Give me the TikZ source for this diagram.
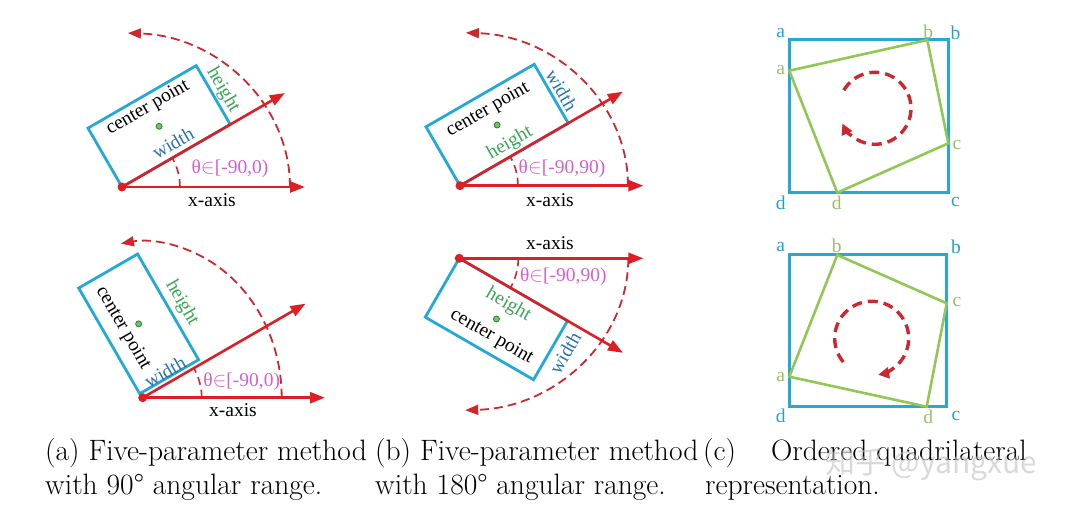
\documentclass[tikz,border=0pt]{standalone}
\usepackage{fontspec}
\newfontfamily\tnr{Liberation Serif}
\newfontfamily\cjkwm{Noto Sans CJK SC}
\usetikzlibrary{arrows.meta,calc}
\definecolor{axred}{RGB}{222,30,36}
\definecolor{arcred}{RGB}{205,40,45}
\definecolor{boxblue}{RGB}{35,168,215}
\definecolor{wblue}{RGB}{40,115,175}
\definecolor{hgreen}{RGB}{55,165,85}
\definecolor{dotgreen}{RGB}{110,200,90}
\definecolor{thmag}{RGB}{212,95,205}
\definecolor{qgreen}{RGB}{145,200,85}
\definecolor{lblblue}{RGB}{40,160,205}
\definecolor{lblgreen}{RGB}{155,190,110}
\tikzset{
  axisarrow/.style={axred, line width=2.6pt, -{Triangle[length=15pt,width=11pt]}},
  bigarc/.style={arcred, line width=1.8pt, dash pattern=on 9pt off 5pt, -{Triangle[length=13pt,width=10pt]}},
  smallarc/.style={arcred, line width=1.6pt, dash pattern=on 8pt off 5pt},
  obox/.style={boxblue, line width=2.8pt, line join=miter},
  sqbox/.style={boxblue, line width=3pt},
  quad/.style={qgreen, line width=2.6pt, line join=miter},
  circarc/.style={arcred, line width=3.4pt, dash pattern=on 10pt off 6pt, -{Triangle[length=11pt,width=11pt]}},
  lbl/.style={font=\tnr\fontsize{19.5}{22}\selectfont, inner sep=0pt},
  corner/.style={font=\tnr\fontsize{19.5}{22}\selectfont, inner sep=0pt},
  captext/.style={font=\fontsize{29.5}{34}\selectfont, inner sep=0pt, anchor=base west},
  cdot/.style={draw=hgreen!75!black, fill=dotgreen, line width=0.8pt},
  odot/.style={fill=axred}
}
\begin{document}
\begin{tikzpicture}[x=1pt,y=-1pt]
\useasboundingbox (0,0) rectangle (1080,510);

% ---------------- Panel (a) top ----------------
\begin{scope}[shift={(122,187)}, yscale=-1]
  \coordinate (A1o) at (0,0);
  \coordinate (A1x) at (183,0);
  \coordinate (A1r) at (30:188);
  \coordinate (A1p1) at (30:125);
  \coordinate (A1p2) at ($(30:125)+(120:68)$);
  \coordinate (A1p3) at (120:68);
  \coordinate (A1m) at ($(A1o)!0.5!(A1p2)$);
  \draw[obox] (A1o) -- (A1p1) -- (A1p2) -- (A1p3) -- cycle;
  \draw[smallarc] (58,0) arc[start angle=0,end angle=30,radius=58];
  \draw[bigarc] (168,0) arc[start angle=0,end angle=88,x radius=168,y radius=154];
  \draw[axisarrow] (A1o) -- (A1x);
  \draw[axisarrow] (A1o) -- (A1r);
  \fill[odot] (A1o) circle (4.5);
  \filldraw[cdot] (A1m) circle (3);
  \node[lbl, rotate=30] (A1c) at (26,79) {center point};
  \node[lbl, text=wblue, rotate=30] (A1w) at (51,44) {width};
  \node[lbl, text=hgreen, rotate=-60] (A1h) at (101,97) {height};
  \node[lbl, text=thmag] (A1t) at (108,18) {θ$\in$[-90,0)};
  \node[lbl] (A1xl) at (90,-13) {x-axis};
\end{scope}

% ---------------- Panel (b) top ----------------
\begin{scope}[shift={(460,185.7)}, yscale=-1]
  \coordinate (B1o) at (0,0);
  \coordinate (B1x) at (183.3,0);
  \coordinate (B1r) at (30:188);
  \coordinate (B1p1) at (30:125);
  \coordinate (B1p2) at ($(30:125)+(120:68)$);
  \coordinate (B1p3) at (120:68);
  \coordinate (B1m) at ($(B1o)!0.5!(B1p2)$);
  \draw[obox] (B1o) -- (B1p1) -- (B1p2) -- (B1p3) -- cycle;
  \draw[smallarc] (58,0) arc[start angle=0,end angle=30,radius=58];
  \draw[bigarc] (168,0) arc[start angle=0,end angle=88,x radius=168,y radius=153];
  \draw[axisarrow] (B1o) -- (B1x);
  \draw[axisarrow] (B1o) -- (B1r);
  \fill[odot] (B1o) circle (4.5);
  \filldraw[cdot] (B1m) circle (3);
  \node[lbl, rotate=30] (B1c) at (28,75.7) {center point};
  \node[lbl, text=hgreen, rotate=30] (B1h) at (50,42.4) {height};
  \node[lbl, text=wblue, rotate=-60] (B1w) at (101.7,95.7) {width};
  \node[lbl, text=thmag] (B1t) at (102,17.4) {θ$\in$[-90,90)};
  \node[lbl] (B1xl) at (90,-14.3) {x-axis};
\end{scope}

% ---------------- Panel (a) bottom ----------------
\begin{scope}[shift={(142.7,397.7)}, yscale=-1]
  \coordinate (A2o) at (0,0);
  \coordinate (A2x) at (182.3,0);
  \coordinate (A2r) at (30:188);
  \coordinate (A2p0) at (-3,4);
  \coordinate (A2p1) at ($(A2p0)+(30:68)$);
  \coordinate (A2p2) at ($(A2p1)+(120:122)$);
  \coordinate (A2p3) at ($(A2p0)+(120:122)$);
  \coordinate (A2m) at ($(A2p0)!0.5!(A2p2)$);
  \draw[obox] (A2p0) -- (A2p1) -- (A2p2) -- (A2p3) -- cycle;
  \draw[smallarc] (59,0) arc[start angle=0,end angle=30,radius=59];
  \draw[bigarc] (139,0) arc[start angle=0,end angle=99,x radius=139,y radius=156];
  \draw[axisarrow] (A2o) -- (A2x);
  \draw[axisarrow] (A2o) -- (A2r);
  \fill[odot] (A2o) circle (4.5);
  \filldraw[cdot] (A2m) circle (3);
  \node[lbl, rotate=-60] (A2c) at (-19.7,69.7) {center point};
  \node[lbl, text=hgreen, rotate=-60] (A2h) at (39.3,94.7) {height};
  \node[lbl, text=wblue, rotate=30] (A2w) at (22.3,25.7) {width};
  \node[lbl, text=thmag] (A2t) at (99,16) {θ$\in$[-90,0)};
  \node[lbl] (A2xl) at (90.3,-12.3) {x-axis};
\end{scope}

% ---------------- Panel (b) bottom ----------------
\begin{scope}[shift={(459.3,258.3)}, yscale=-1]
  \coordinate (B2o) at (0,0);
  \coordinate (B2x) at (184,0);
  \coordinate (B2r) at (-30:189);
  \coordinate (B2p1) at (-30:125);
  \coordinate (B2p2) at ($(-30:125)+(-120:68)$);
  \coordinate (B2p3) at (-120:68);
  \coordinate (B2m) at ($(B2o)!0.5!(B2p2)$);
  \draw[obox] (B2o) -- (B2p1) -- (B2p2) -- (B2p3) -- cycle;
  \draw[smallarc] (59,0) arc[start angle=0,end angle=-30,radius=59];
  \draw[bigarc] (169,0) arc[start angle=0,end angle=-88,x radius=169,y radius=152];
  \draw[axisarrow] (B2o) -- (B2x);
  \draw[axisarrow] (B2o) -- (B2r);
  \fill[odot] (B2o) circle (4.5);
  \filldraw[cdot] (B2m) circle (3);
  \node[lbl, rotate=-30] (B2c) at (32.4,-78.4) {center point};
  \node[lbl, text=hgreen, rotate=-30] (B2h) at (49,-46.7) {height};
  \node[lbl, text=wblue, rotate=60] (B2w) at (105.7,-95) {width};
  \node[lbl, text=thmag] (B2t) at (104,-18.4) {θ$\in$[-90,90)};
  \node[lbl] (B2xl) at (90.7,15) {x-axis};
\end{scope}

% ---------------- Panel (c) top ----------------
\coordinate (C1A) at (789.3,40);
\coordinate (C1B) at (948.3,40);
\coordinate (C1C) at (948.3,192.7);
\coordinate (C1D) at (789.3,192.7);
\coordinate (C1a) at (789.3,70.7);
\coordinate (C1b) at (927.3,40);
\coordinate (C1c) at (948.3,143.3);
\coordinate (C1d) at (837.3,192.7);
\draw[sqbox] (C1A) -- (C1B) -- (C1C) -- (C1D) -- cycle;
\draw[quad] (C1a) -- (C1b) -- (C1c) -- (C1d) -- cycle;
\begin{scope}[shift={(875,108.3)}, yscale=-1]
  \draw[circarc] (150:36) arc[start angle=150,end angle=-155,radius=36];
\end{scope}
\node[corner, text=lblblue] (C1la) at (780.7,32.7) {a};
\node[corner, text=lblblue] (C1lb) at (955.5,32.7) {b};
\node[corner, text=lblblue] (C1lc) at (955.5,202.5) {c};
\node[corner, text=lblblue] (C1ld) at (780.7,202.5) {d};
\node[corner, text=lblgreen] (C1ga) at (780.7,70) {a};
\node[corner, text=lblgreen] (C1gb) at (928.3,31.7) {b};
\node[corner, text=lblgreen] (C1gc) at (957,145) {c};
\node[corner, text=lblgreen] (C1gd) at (836.7,202.5) {d};

% ---------------- Panel (c) bottom ----------------
\coordinate (C2A) at (789.3,255);
\coordinate (C2B) at (946.7,255);
\coordinate (C2C) at (946.7,406.7);
\coordinate (C2D) at (789.3,406.7);
\coordinate (C2a) at (789.3,376.7);
\coordinate (C2b) at (837.3,255);
\coordinate (C2c) at (946.7,303.3);
\coordinate (C2d) at (926.7,406.7);
\draw[sqbox] (C2A) -- (C2B) -- (C2C) -- (C2D) -- cycle;
\draw[quad] (C2a) -- (C2b) -- (C2c) -- (C2d) -- cycle;
\begin{scope}[shift={(871.7,338.3)}, yscale=-1]
  \draw[circarc] (220:37) arc[start angle=220,end angle=-80,radius=37];
\end{scope}
\node[corner, text=lblblue] (C2la) at (780.7,246.7) {a};
\node[corner, text=lblblue] (C2lb) at (956,246.7) {b};
\node[corner, text=lblblue] (C2lc) at (956,416) {c};
\node[corner, text=lblblue] (C2ld) at (780.7,416) {d};
\node[corner, text=lblgreen] (C2ga) at (780.7,376.7) {a};
\node[corner, text=lblgreen] (C2gb) at (836.7,245.7) {b};
\node[corner, text=lblgreen] (C2gc) at (957,302.3) {c};
\node[corner, text=lblgreen] (C2gd) at (928.3,416.5) {d};

% ---------------- Captions ----------------
\node[captext] (capa1) at (45,461) {(a) Five-parameter method};
\node[captext] (capa2) at (45,494.5) {with 90° angular range.};
\node[captext] (capb1) at (375,461) {(b) Five-parameter method};
\node[captext] (capb2) at (375,494.5) {with 180° angular range.};
\node[captext] (capc1) at (703,461) {(c)};
\node[captext, anchor=base east] (capc1b) at (1027,461) {Ordered quadrilateral};
\node[captext] (capc2) at (705,494.5) {representation.};

% watermark
\node[font=\cjkwm\fontsize{30}{30}\selectfont, text=gray!50, opacity=0.6, anchor=base west, inner sep=0pt] (wm) at (825,474) {知乎 @yangxue};
\end{tikzpicture}
\end{document}
